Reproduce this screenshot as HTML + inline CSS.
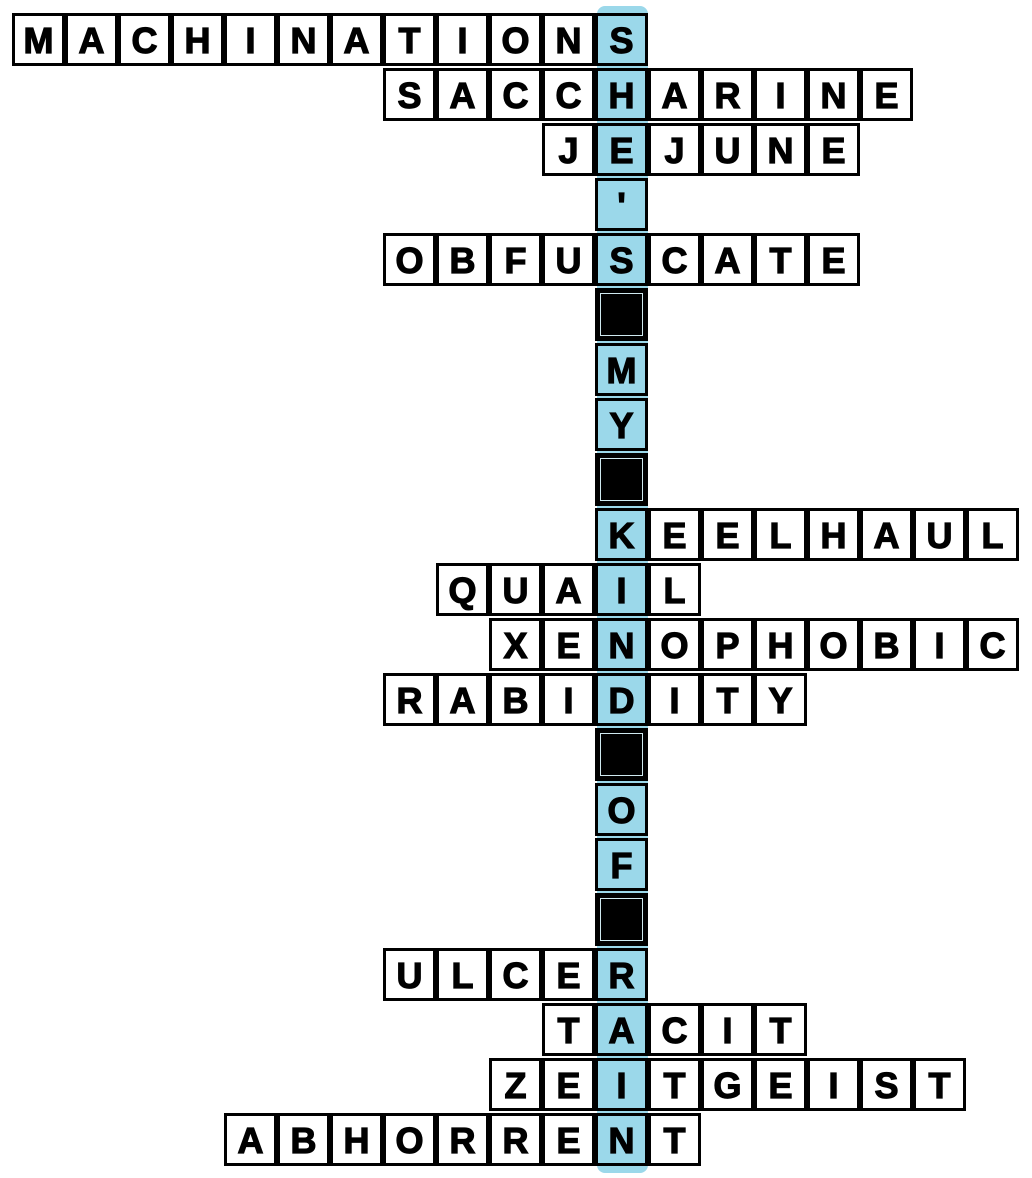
<!DOCTYPE html>
<html><head><style>
body{margin:0;width:1032px;height:1178px;background:#fff;position:relative;overflow:hidden;font-family:"Liberation Sans",sans-serif}
.c{position:absolute;width:53px;height:53px;box-sizing:border-box;border:3px solid #000;background:#fff;font-weight:bold;font-size:36px;line-height:49px;text-align:center;color:#000;-webkit-text-stroke:1.2px #000}
.k{background:#9bd8ea}
.b{background:#000;box-shadow:inset 0 0 0 2px #000,inset 0 0 0 3px #cfe9f0}
#bar{position:absolute;left:597px;top:6px;width:51px;height:1167px;background:#9bd8ea;border-radius:8px}
</style></head><body>
<div id="bar"></div>
<script>
const rows=[["MACHINATIONS",0],["SACCHARINE",7],["JEJUNE",10],["'",11],["OBFUSCATE",7],["#",11],["M",11],["Y",11],["#",11],["KEELHAUL",11],["QUAIL",8],["XENOPHOBIC",9],["RABIDITY",7],["#",11],["O",11],["F",11],["#",11],["ULCER",7],["TACIT",10],["ZEITGEIST",9],["ABHORRENT",4]];
let h="";
rows.forEach(([w,s],r)=>{for(let i=0;i<w.length;i++){const col=s+i;const x=12+col*53;const y=13+r*55;let cls="c";if(w[i]=="#")cls+=" b";else if(col==11)cls+=" k";h+=`<div class="${cls}" style="left:${x}px;top:${y}px">${w[i]=="#"?"":w[i]}</div>`;}});
document.body.insertAdjacentHTML("beforeend",h);
</script>
</body></html>
